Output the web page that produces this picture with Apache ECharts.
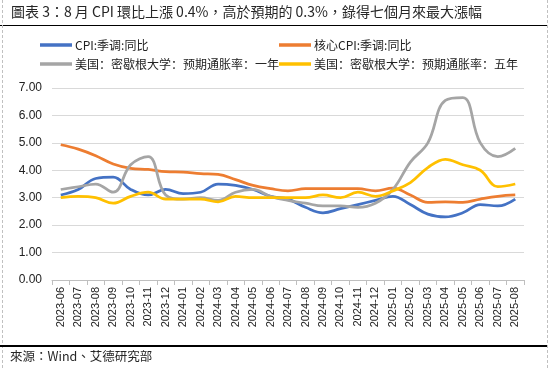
<!DOCTYPE html>
<html>
<head>
<meta charset="utf-8">
<script src="https://cdn.jsdelivr.net/npm/echarts@6/dist/echarts.min.js"></script>
<style>
html,body{margin:0;padding:0;background:#fff;}
#chart{width:550px;height:369px;}
</style>
</head>
<body>
<div id="chart"></div>
<script>
var titleText = '圖表 3：8 月 CPI 環比上漲 0.4%，高於預期的 0.3%，錄得七個月來最大漲幅';
var sourceText = '來源：Wind、艾德研究部';
var seriesNames = ['CPI:季调:同比', '核心CPI:季调:同比', '美国：密歇根大学：预期通胀率：一年', '美国：密歇根大学：预期通胀率：五年'];
var categories = ['2023-06','2023-07','2023-08','2023-09','2023-10','2023-11','2023-12',
  '2024-01','2024-02','2024-03','2024-04','2024-05','2024-06','2024-07','2024-08','2024-09','2024-10','2024-11','2024-12',
  '2025-01','2025-02','2025-03','2025-04','2025-05','2025-06','2025-07','2025-08'];
var cpi   = [3.1, 3.3, 3.7, 3.75, 3.3, 3.1, 3.3, 3.15, 3.2, 3.5, 3.45, 3.3, 3.05, 2.95, 2.65, 2.45, 2.6, 2.75, 2.9, 3.05, 2.75, 2.4, 2.3, 2.45, 2.75, 2.7, 2.95];
var core  = [4.93, 4.77, 4.53, 4.23, 4.07, 4.03, 3.95, 3.93, 3.88, 3.85, 3.66, 3.45, 3.33, 3.25, 3.33, 3.33, 3.33, 3.33, 3.25, 3.35, 3.1, 2.83, 2.85, 2.83, 2.95, 3.05, 3.1];
var mich1 = [3.3, 3.4, 3.5, 3.2, 4.2, 4.5, 3.1, 2.95, 3.0, 2.9, 3.2, 3.3, 3.05, 2.9, 2.8, 2.7, 2.7, 2.65, 2.8, 3.3, 4.3, 5.0, 6.55, 6.65, 5.0, 4.5, 4.8];
var mich5 = [3.0, 3.05, 3.0, 2.8, 3.05, 3.2, 2.95, 2.95, 2.95, 2.85, 3.05, 3.0, 3.0, 3.0, 3.0, 3.1, 3.0, 3.2, 3.05, 3.25, 3.55, 4.1, 4.4, 4.2, 4.0, 3.4, 3.5];
var yTicks = {min: 0, max: 7, interval: 1};
var colors = ['#4472C4', '#ED7D31', '#A5A5A5', '#FFC000'];
var values = [cpi, core, mich1, mich5];

var chart = echarts.init(document.getElementById('chart'), null, {renderer: 'canvas'});
var legendPos = [[40, 39], [279, 39], [40, 58], [279, 58]];
var legends = seriesNames.map(function (n, i) {
  return {
    data: [n], left: legendPos[i][0], top: legendPos[i][1], padding: 0,
    icon: 'rect', itemWidth: 32, itemHeight: 3.5,
    textStyle: {fontSize: 12, color: '#222', fontFamily: 'Noto Sans CJK SC', padding: [0, 0, 0, -2]}
  };
});
var series = seriesNames.map(function (n, i) {
  return {
    name: n, type: 'line', data: values[i], smooth: 0.4, showSymbol: false, symbol: 'none',
    lineStyle: {width: 2.75, color: colors[i]}, itemStyle: {color: colors[i]}
  };
});
chart.setOption({
  animation: false,
  backgroundColor: '#fff',
  legend: legends,
  grid: {left: 52, right: 26, top: 88, bottom: 89},
  xAxis: {
    type: 'category', data: categories, boundaryGap: true,
    axisLine: {lineStyle: {color: '#BFBFBF', width: 1}},
    axisTick: {show: true, length: 5, lineStyle: {color: '#BFBFBF'}},
    axisLabel: {rotate: 90, interval: 0, fontSize: 11, margin: 7, color: '#222', fontFamily: 'Liberation Sans'}
  },
  yAxis: {
    type: 'value', min: yTicks.min, max: yTicks.max, interval: yTicks.interval,
    axisLine: {show: false}, axisTick: {show: false},
    splitLine: {lineStyle: {color: '#D9D9D9', width: 1}},
    axisLabel: {formatter: function (v) { return v.toFixed(2); }, fontSize: 12, margin: 10, color: '#222', fontFamily: 'Liberation Sans'}
  },
  series: series,
  graphic: [
    {type: 'text', left: 11, top: 5, style: {text: titleText, fontSize: 14, fill: '#262626', fontFamily: 'Noto Sans CJK TC'}},
    {type: 'line', shape: {x1: 0, y1: 25.5, x2: 548, y2: 25.5}, style: {stroke: '#000', lineWidth: 1}},
    {type: 'line', shape: {x1: 2.5, y1: 0, x2: 2.5, y2: 369}, style: {stroke: '#C0C0C0', lineWidth: 1, lineDash: [3, 2]}},
    {type: 'line', shape: {x1: 547.5, y1: 0, x2: 547.5, y2: 369}, style: {stroke: '#C0C0C0', lineWidth: 1, lineDash: [3, 2]}},
    {type: 'line', shape: {x1: 0, y1: 346, x2: 547, y2: 346}, style: {stroke: '#000', lineWidth: 2}},
    {type: 'text', left: 10, top: 350, style: {text: sourceText, fontSize: 12.5, fill: '#262626', fontFamily: 'Noto Sans CJK TC'}}
  ]
});
</script>
</body>
</html>
